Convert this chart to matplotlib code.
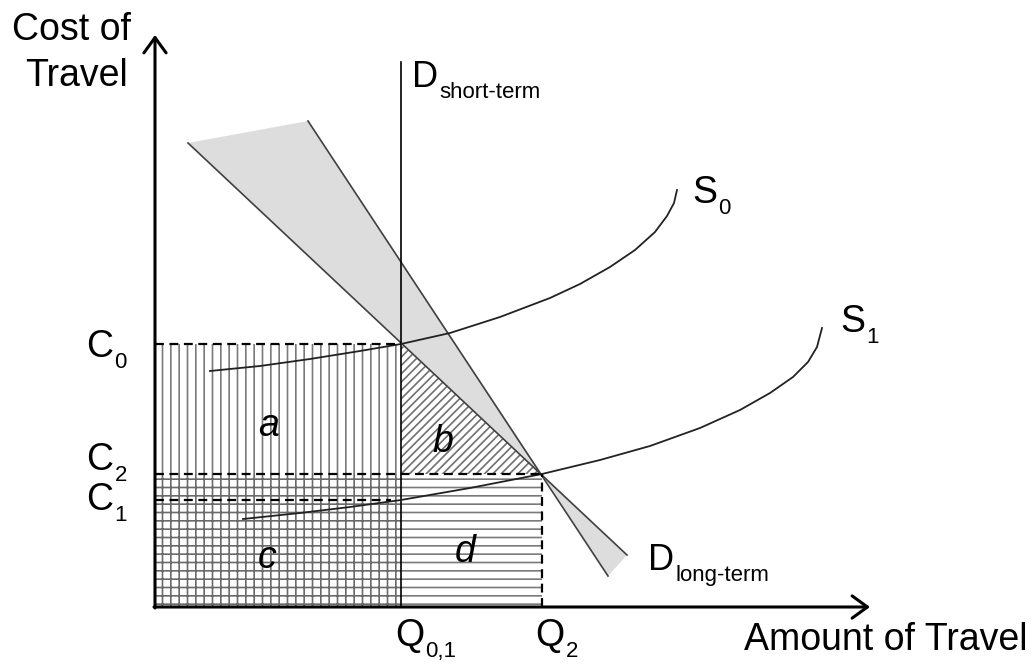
import numpy as np
import matplotlib.pyplot as plt
from matplotlib.patches import Polygon, Rectangle

plt.rcParams['font.family'] = ['Liberation Sans', 'DejaVu Sans']
plt.rcParams['hatch.linewidth'] = 1.2

# chart units measured from the origin of the two axes
q01, q2 = 246, 387            # Q0,1 and Q2
c0, c2, c1 = 263, 133, 107    # C0, C2, C1
x_end, y_end = 715, 572       # arrow tips of the axes
d_short_top = 545

# long-term demand band, bounded by two lines
d_flat = [(33, 464), (472, 52)]
d_steep = [(153, 486), (453, 31)]

# supply curves
s0_x = [55, 105, 155, 205, 246, 295, 345, 395, 425, 455, 480, 500, 512, 519, 522]
s0_y = [236, 241, 248, 256, 263, 274, 290, 309, 323, 340, 357, 375, 391, 404, 417]
s1_x = [88, 145, 195, 246, 315, 387, 445, 495, 545, 585, 615, 638, 653, 662, 667]
s1_y = [88, 94, 100, 107, 119, 133, 147, 161, 179, 197, 214, 230, 245, 260, 279]

fig = plt.figure(figsize=(10.34, 6.69), dpi=100)
ax = fig.add_axes([0, 0, 1, 1])
ax.set_xlim(-155, 879)
ax.set_ylim(-62, 607)
ax.axis('off')

# shaded wedge between the two long-term demand lines
ax.add_patch(Polygon([d_flat[0], d_steep[0], (q2, c2)], closed=True,
                     facecolor='#dddddd', edgecolor='none', zorder=1))
ax.add_patch(Polygon([(q2, c2), d_flat[1], d_steep[1]], closed=True,
                     facecolor='#dddddd', edgecolor='none', zorder=1))

# hatched areas a, b, c, d
ax.add_patch(Rectangle((0, c2), q01, c0 - c2, facecolor='white',
                       edgecolor='#7a7a7a', lw=0, hatch='||', zorder=1))
ax.add_patch(Rectangle((0, 0), q01, c2, facecolor='white',
                       edgecolor='#6a6a6a', lw=0, hatch='++', zorder=1))
ax.add_patch(Rectangle((q01, 0), q2 - q01, c2, facecolor='white',
                       edgecolor='#7a7a7a', lw=0, hatch='--', zorder=1))
ax.add_patch(Polygon([(q01, c0), (q01, c2), (q2, c2)], closed=True,
                     facecolor='white', edgecolor='#707070', lw=0,
                     hatch='////', zorder=1))

# demand lines
ax.plot(*zip(*d_flat), color='#404040', lw=1.2, zorder=2)
ax.plot(*zip(*d_steep), color='#404040', lw=1.2, zorder=2)
ax.plot([q01, q01], [0, d_short_top], color='black', lw=1.2, zorder=2)

# supply curves
ax.plot(s0_x, s0_y, color='#222222', lw=1.3, zorder=2, solid_joinstyle='round')
ax.plot(s1_x, s1_y, color='#222222', lw=1.3, zorder=2, solid_joinstyle='round')

# dashed guides
dash = (0, (4, 2.5))
ax.plot([0, q01], [c0, c0], color='black', lw=1.6, ls=dash, zorder=3)
ax.plot([0, q2], [c2, c2], color='black', lw=1.6, ls=dash, zorder=3)
ax.plot([0, q01 - 10], [c1, c1], color='black', lw=1.6, ls=dash, zorder=3)
ax.plot([q2, q2], [0, c2], color='black', lw=1.6, ls=dash, zorder=3)

# axes with arrows
arrow = dict(arrowstyle='->,head_length=0.55,head_width=0.4', lw=2.2,
             color='black', shrinkA=0, shrinkB=0, mutation_scale=20)
ax.annotate('', xy=(0, y_end), xytext=(0, -1), arrowprops=arrow, zorder=4)
ax.annotate('', xy=(x_end, 0), xytext=(-1, 0), arrowprops=arrow, zorder=4)


def sublabel(x, y, main, sub, size=27, subsize=16, **kw):
    t = ax.text(x, y, main, fontsize=size, va='baseline', **kw)
    ax.annotate(sub, xy=(1, 0), xycoords=t, xytext=(1, -2),
                textcoords='offset points', fontsize=subsize,
                va='baseline', ha='left')


ax.text(-143, 567, 'Cost of', fontsize=27, ha='left', va='baseline')
ax.text(-130, 521, 'Travel', fontsize=27, ha='left', va='baseline')
ax.text(873, -43, 'Amount of Travel', fontsize=27, ha='right', va='baseline')

sublabel(-42, 250, 'C', '0', ha='right')
sublabel(-42, 137, 'C', '2', ha='right')
sublabel(-42, 97, 'C', '1', ha='right')
sublabel(240, -39, 'Q', '0,1')
sublabel(380, -39, 'Q', '2')
sublabel(537, 404, 'S', '0')
sublabel(685, 275, 'S', '1')
sublabel(257, 520, 'D', 'short-term', size=26)
sublabel(493, 37, 'D', 'long-term', size=26)

for txt, x, y in [('a', 114, 181), ('b', 288, 165), ('c', 112, 49), ('d', 310, 55)]:
    ax.text(x, y, txt, fontsize=27, style='italic', ha='center', va='center')

fig.savefig('out.png', dpi=100)
